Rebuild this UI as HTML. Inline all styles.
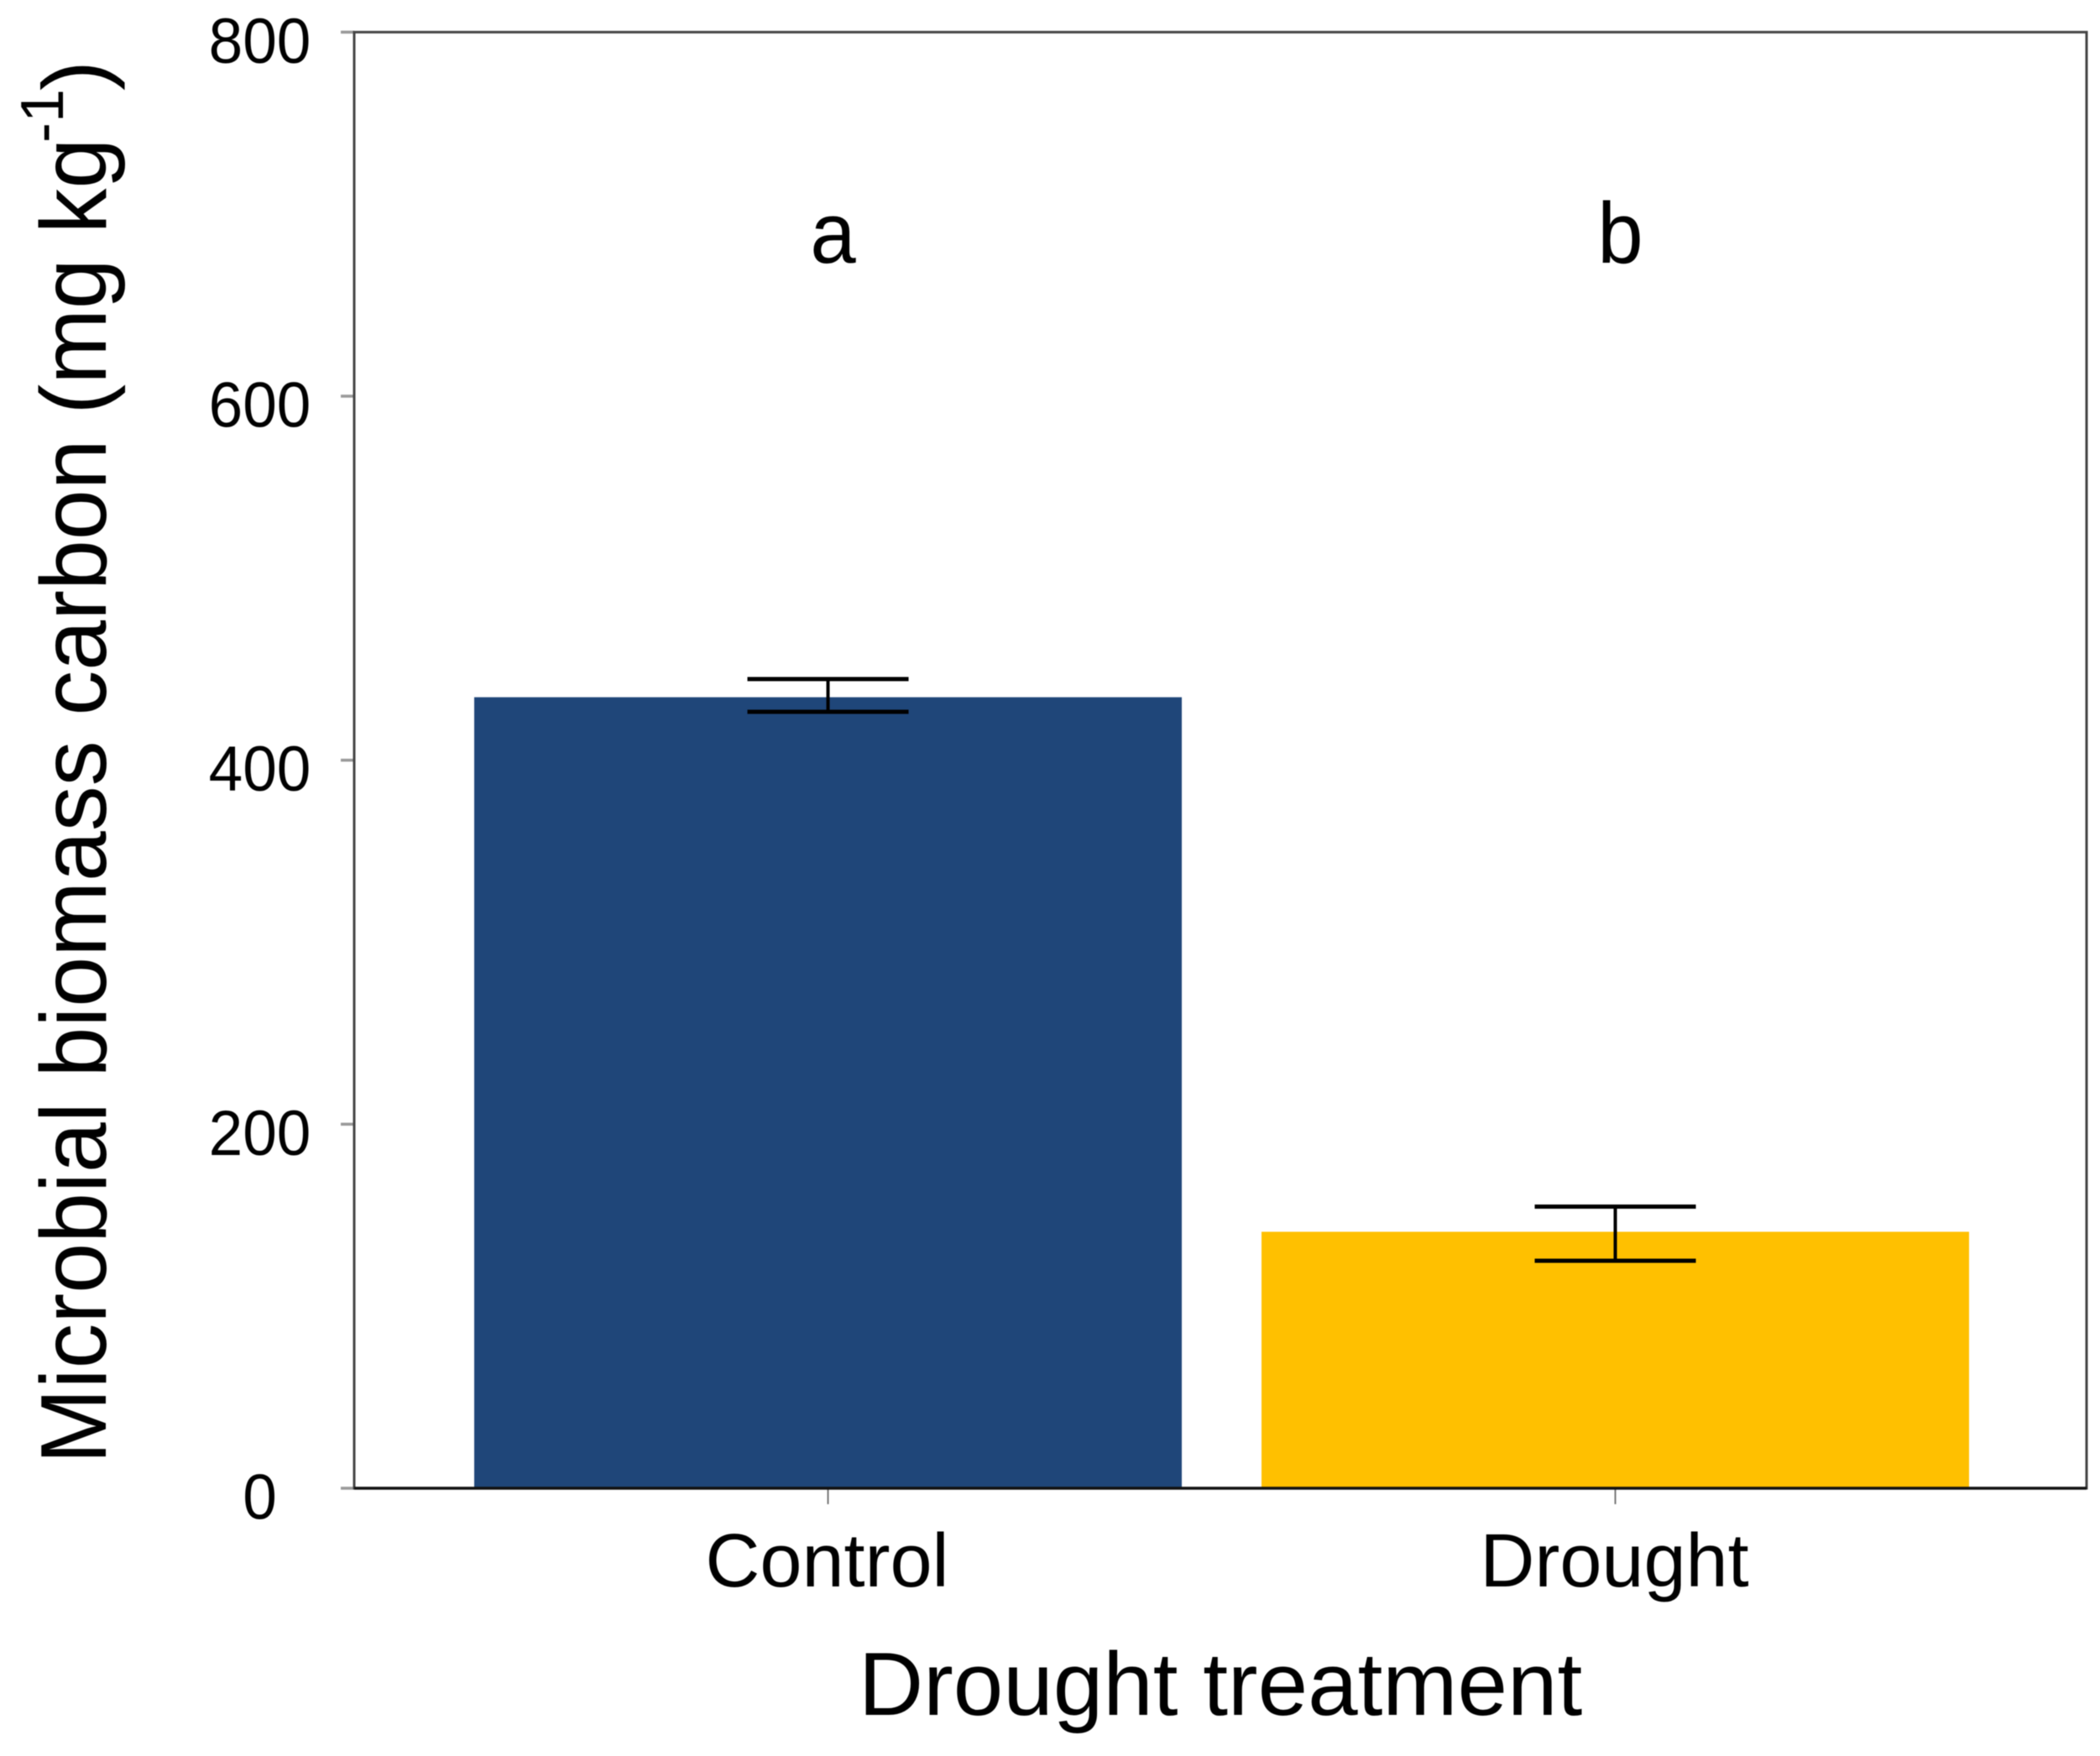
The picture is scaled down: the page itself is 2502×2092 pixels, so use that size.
<!DOCTYPE html>
<html lang="en">
<head>
<meta charset="utf-8">
<title>Microbial biomass carbon by drought treatment</title>
<style>
  html, body { margin: 0; padding: 0; background: #ffffff; }
  body { width: 2502px; height: 2092px; overflow: hidden; }
  svg { display: block; font-family: "Liberation Sans", Arial, sans-serif; filter: blur(0.6px); }
  text { fill: #000000; }
</style>
</head>
<body>
<svg id="chart" xmlns="http://www.w3.org/2000/svg" width="2502" height="2092" viewBox="0 0 2502 2092">
  <rect x="0" y="0" width="2502" height="2092" fill="#ffffff"/>
  <g transform="translate(126 0) rotate(-90)">
    <text transform="scale(0.97 1)" x="-1798" y="0" font-size="111">Microbial biomass carbon (mg kg</text>
    <text x="-170" y="-51" font-size="72">-1</text>
    <text x="-108" y="0" font-size="108">)</text>
  </g>
  <text x="1454" y="2043" font-size="107" text-anchor="middle">Drought treatment</text>
</svg>
<script>
const categories = ['Control', 'Drought'];
const meanValues = [434.6, 140.9];
const errorUpper = [444.6, 154.7];
const errorLower = [426.6, 125.0];
const significanceLetters = ['a', 'b'];
const yTickValues = [0, 200, 400, 600, 800];

const svgNS = 'http://www.w3.org/2000/svg';
const chart = document.getElementById('chart');
const plot = { left: 422, right: 2486, top: 38.3, bottom: 1773 };
const yMax = 800;
const barWidth = 843;
const capHalfWidth = 96;
const barColors = ['#1f4679', '#ffc000'];

function yScale(value) {
  return plot.bottom - (value / yMax) * (plot.bottom - plot.top);
}
function xCenter(index) {
  return 986.5 + index * 938;
}
function make(tag, attrs, text) {
  const el = document.createElementNS(svgNS, tag);
  for (const key in attrs) el.setAttribute(key, attrs[key]);
  if (text !== undefined) el.textContent = text;
  chart.appendChild(el);
  return el;
}

categories.forEach(function (cat, i) {
  const cx = xCenter(i);
  const key = cat.toLowerCase();

  const bar = make('rect', {
    x: cx - barWidth / 2,
    y: yScale(meanValues[i]),
    width: barWidth,
    height: plot.bottom - yScale(meanValues[i]),
    fill: barColors[i]
  });
  
  

  const stem = make('line', {
    x1: cx, x2: cx, y1: yScale(errorUpper[i]), y2: yScale(errorLower[i]),
    stroke: '#000000', 'stroke-width': 4
  });
  
  

  const capTop = make('line', {
    x1: cx - capHalfWidth, x2: cx + capHalfWidth,
    y1: yScale(errorUpper[i]), y2: yScale(errorUpper[i]),
    stroke: '#000000', 'stroke-width': 5
  });
  
  

  const capBottom = make('line', {
    x1: cx - capHalfWidth, x2: cx + capHalfWidth,
    y1: yScale(errorLower[i]), y2: yScale(errorLower[i]),
    stroke: '#000000', 'stroke-width': 5
  });
  
  

  const tick = make('line', {
    x1: cx, x2: cx, y1: plot.bottom, y2: 1792,
    stroke: '#777777', 'stroke-width': 2
  });
  
  

  const label = make('text', {
    x: cx - 1, y: 1890, 'font-size': 90, 'text-anchor': 'middle'
  }, cat);
  
  

  const letter = make('text', {
    transform: 'translate(' + (cx + 6) + ' 313) scale(0.95 1)',
    'font-size': 103, 'text-anchor': 'middle'
  }, significanceLetters[i]);
  
  
});

yTickValues.forEach(function (v) {
  const y = yScale(v);

  const tick = make('line', {
    x1: 406, x2: plot.left, y1: y, y2: y,
    stroke: '#999999', 'stroke-width': 3.5
  });
  
  

  const label = make('text', {
    transform: 'translate(309.5 ' + (y + 36.5) + ') scale(0.96 1)',
    'font-size': 76, 'text-anchor': 'middle'
  }, String(v));
  
  
});

const frame = make('rect', {
  x: plot.left, y: plot.top,
  width: plot.right - plot.left, height: plot.bottom - plot.top,
  fill: 'none', stroke: '#444444', 'stroke-width': 3
});



const baseline = make('line', {
  x1: plot.left, x2: plot.right, y1: plot.bottom, y2: plot.bottom,
  stroke: '#111111', 'stroke-width': 3.5
});


</script>
</body>
</html>
